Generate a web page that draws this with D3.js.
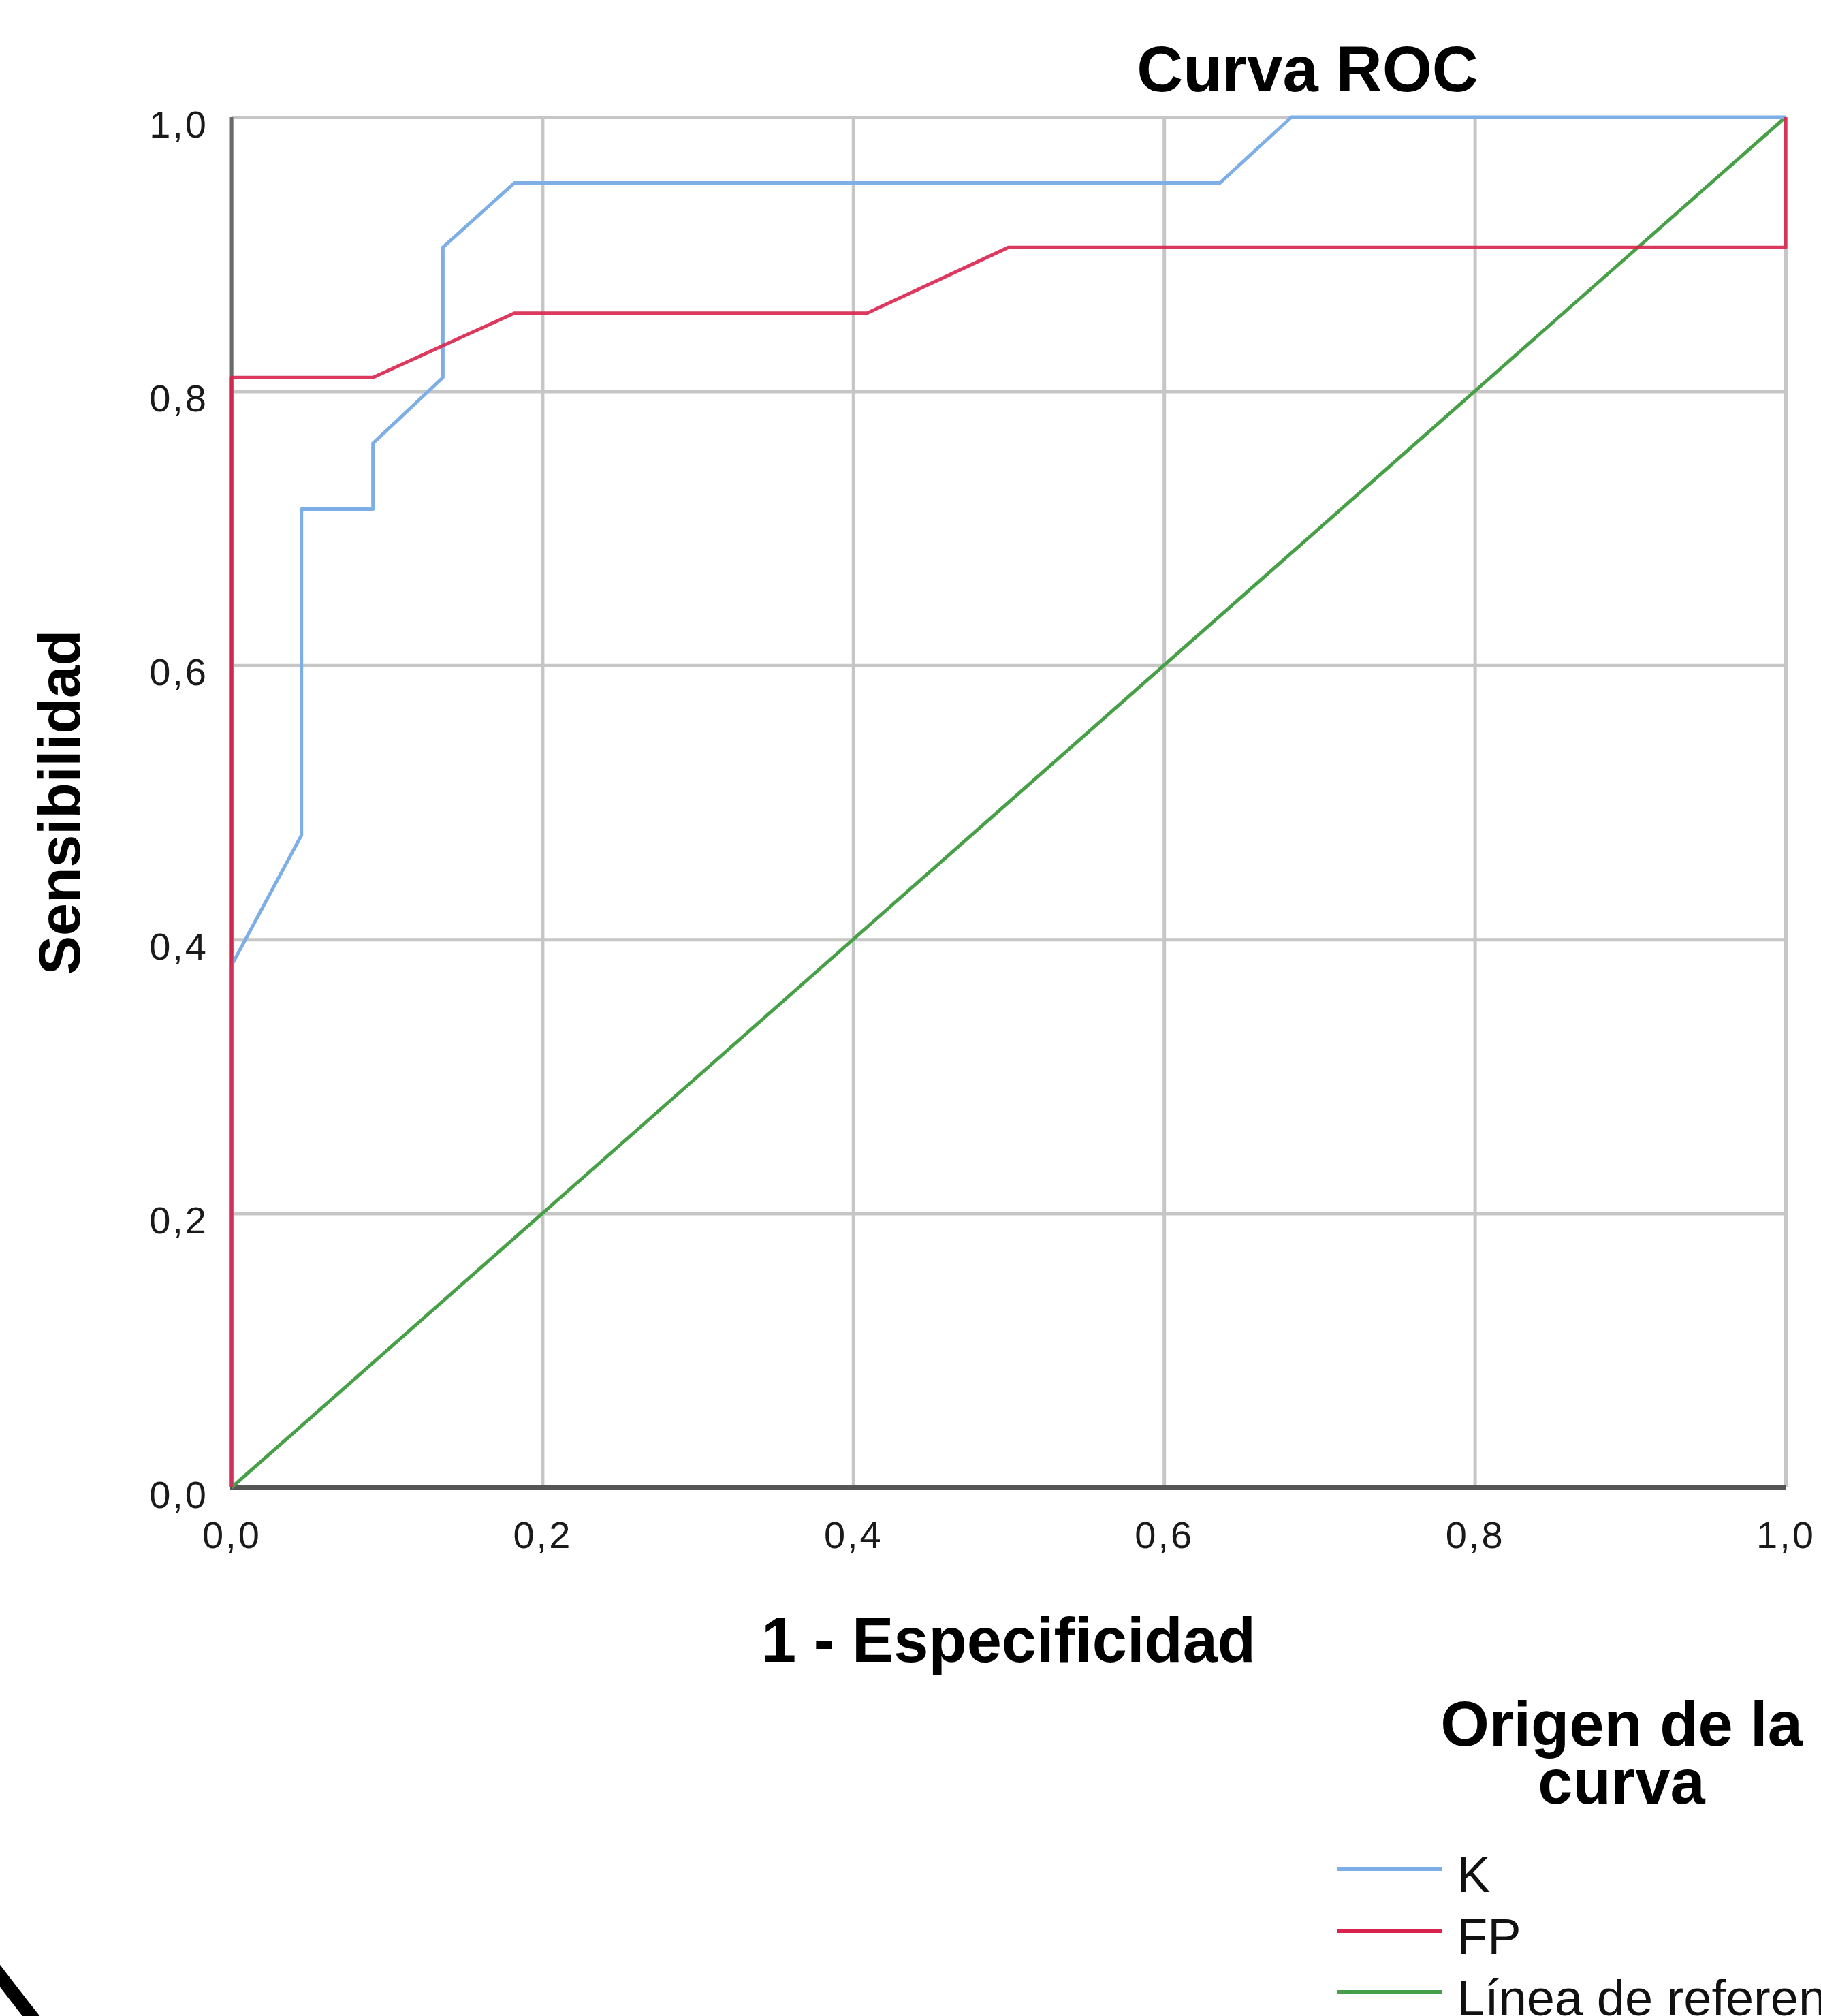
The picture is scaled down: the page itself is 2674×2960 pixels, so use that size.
<!DOCTYPE html>
<html>
<head>
<meta charset="utf-8">
<script src="https://cdn.jsdelivr.net/npm/d3@7"></script>
<style>
html,body{margin:0;padding:0;background:#fff;overflow:hidden;}
svg{display:block;}
</style>
</head>
<body>
<svg id="chart" width="2674" height="2960"></svg>
<script>
// ---- data ----
const tickValues = [0, 0.2, 0.4, 0.6, 0.8, 1.0];
const tickLabels = ["0,0", "0,2", "0,4", "0,6", "0,8", "1,0"];

const seriesNames = ["K", "FP", "Línea de referencia"];
const seriesColors = ["#7eaee6", "#d9224d", "#47a047"];

const kX = [0, 0, 0.045, 0.045, 0.091, 0.091, 0.136, 0.136, 0.182, 0.636, 0.682, 1.0];
const kY = [0, 0.381, 0.476, 0.714, 0.714, 0.762, 0.810, 0.905, 0.952, 0.952, 1.0, 1.0];

const fpX = [0, 0, 0.091, 0.182, 0.409, 0.5, 1.0, 1.0];
const fpY = [0, 0.810, 0.810, 0.857, 0.857, 0.905, 0.905, 1.0];

const refX = [0, 1];
const refY = [0, 1];

const titleText = "Curva ROC";
const xTitle = "1 - Especificidad";
const yTitle = "Sensibilidad";
const legendTitle = ["Origen de la", "curva"];

// ---- layout ----
const svg = d3.select("#chart");
const L = 340, R = 2622, T = 172, B = 2184;
const x = d3.scaleLinear().domain([0, 1]).range([L, R]);
const y = d3.scaleLinear().domain([0, 1]).range([B, T]);
const font = "'Liberation Sans', Arial, Helvetica, sans-serif";

// gridlines
const grid = svg.append("g");
grid.append("g")
  .attr("transform", `translate(0,${B})`)
  .call(d3.axisBottom(x).tickValues(tickValues).tickSize(-(B - T)).tickFormat(""))
  .call(g => g.select(".domain").remove())
  .call(g => g.selectAll("line").attr("stroke", "#c6c6c6").attr("stroke-width", 5));
grid.append("g")
  .attr("transform", `translate(${L},0)`)
  .call(d3.axisLeft(y).tickValues(tickValues).tickSize(-(R - L)).tickFormat(""))
  .call(g => g.select(".domain").remove())
  .call(g => g.selectAll("line").attr("stroke", "#c6c6c6").attr("stroke-width", 5));

// axis lines
svg.append("line").attr("x1", L).attr("x2", L).attr("y1", T).attr("y2", B)
  .attr("stroke", "#6a6a6a").attr("stroke-width", 5);
svg.append("line").attr("x1", L - 2).attr("x2", R).attr("y1", B).attr("y2", B)
  .attr("stroke", "#555", ).attr("stroke-width", 7);

// tick labels
const fmt = d => tickLabels[tickValues.indexOf(d)];
svg.append("g")
  .attr("transform", `translate(0,${B})`)
  .call(d3.axisBottom(x).tickValues(tickValues).tickSize(0).tickFormat(fmt))
  .call(g => g.select(".domain").remove())
  .call(g => g.selectAll("text")
    .attr("y", 89).attr("dy", null)
    .attr("font-family", font).attr("font-size", 56)
    .attr("letter-spacing", 3).attr("fill", "#1a1a1a"));
svg.append("g")
  .attr("transform", `translate(${L},0)`)
  .call(d3.axisLeft(y).tickValues(tickValues).tickSize(0).tickFormat(fmt))
  .call(g => g.select(".domain").remove())
  .call(g => g.selectAll("text")
    .attr("x", -34).attr("y", 29).attr("dy", null)
    .attr("font-family", font).attr("font-size", 56)
    .attr("letter-spacing", 3).attr("fill", "#1a1a1a"));

// curves
const line = d3.line().x(d => x(d[0])).y(d => y(d[1])).curve(d3.curveLinear);
const series = [
  d3.zip(refX, refY),
  d3.zip(kX, kY),
  d3.zip(fpX, fpY)
];
const order = [2, 0, 1];
series.forEach((pts, i) => {
  svg.append("path")
    .attr("d", line(pts))
    .attr("fill", "none")
    .attr("stroke", seriesColors[order[i]])
    .attr("stroke-width", 5)
    .attr("stroke-opacity", i === 2 ? 0.9 : 1)
    .attr("stroke-linejoin", "round");
});

// titles
svg.append("text").attr("x", 1920).attr("y", 134)
  .attr("text-anchor", "middle").attr("font-family", font)
  .attr("font-weight", "bold").attr("font-size", 94).attr("fill", "#000")
  .text(titleText);
svg.append("text").attr("x", (L + R) / 2).attr("y", 2440)
  .attr("text-anchor", "middle").attr("font-family", font)
  .attr("font-weight", "bold").attr("font-size", 92).attr("fill", "#000")
  .text(xTitle);
svg.append("text")
  .attr("transform", `translate(117,${(T + B) / 2}) rotate(-90)`)
  .attr("text-anchor", "middle").attr("font-family", font)
  .attr("font-weight", "bold").attr("font-size", 86).attr("fill", "#000")
  .text(yTitle);

// legend
const lg = svg.append("g");
const lt = lg.append("text")
  .attr("text-anchor", "middle").attr("font-family", font)
  .attr("font-weight", "bold").attr("font-size", 92).attr("fill", "#000");
lt.selectAll("tspan").data(legendTitle).join("tspan")
  .attr("x", 2381).attr("y", (d, i) => 2563 + i * 85)
  .text(d => d);
const rowsY = [2744, 2835, 2925];
seriesNames.forEach((name, i) => {
  lg.append("line").attr("x1", 1964).attr("x2", 2117)
    .attr("y1", rowsY[i]).attr("y2", rowsY[i])
    .attr("stroke", seriesColors[i]).attr("stroke-width", 6);
  lg.append("text").attr("x", 2139).attr("y", rowsY[i] + 34)
    .attr("font-family", font).attr("font-size", 74).attr("fill", "#111")
    .text(name);
});

// corner artifact (black arc at bottom-left)
svg.append("path")
  .attr("d", "M -10,2888 Q 18,2925 52,2968")
  .attr("fill", "none").attr("stroke", "#000").attr("stroke-width", 20);
</script>
</body>
</html>
